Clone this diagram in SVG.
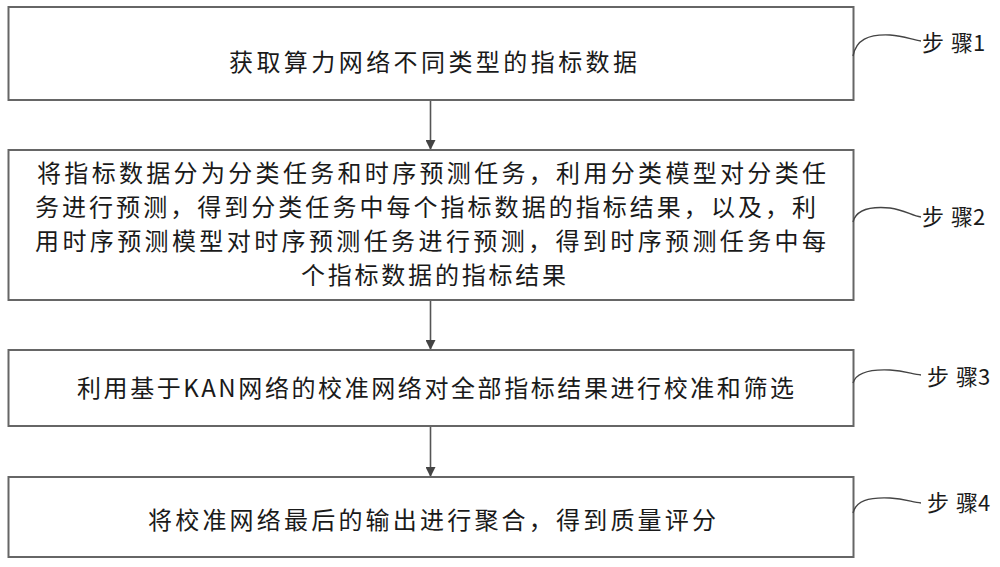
<svg xmlns="http://www.w3.org/2000/svg" width="1000" height="567" viewBox="0 0 1000 567">
<style>
.box{fill:#fff;stroke:#666;stroke-width:2}
.t{font-family:"Noto Sans CJK SC","Noto Sans",sans-serif;font-size:24px;fill:#1a1a1a;text-anchor:middle}
.lbl{font-family:"Noto Sans CJK SC","Noto Sans",sans-serif;font-size:22px;fill:#1a1a1a}
.con{stroke:#555;stroke-width:1.6;fill:none}
.cur{stroke:#444;stroke-width:1.4;fill:none}
</style>
<defs>
<marker id="arr" viewBox="0 0 10 10" refX="10" refY="5" markerWidth="10" markerHeight="10" markerUnits="userSpaceOnUse" orient="auto">
<path d="M0,0 L10,5 L0,10 Z" fill="#444"/>
</marker>
</defs>
<rect width="1000" height="567" fill="#fff"/>
<g id="connectors">
<line class="con" x1="430.5" y1="100" x2="430.5" y2="150" marker-end="url(#arr)"/>
<line class="con" x1="430.5" y1="300" x2="430.5" y2="350" marker-end="url(#arr)"/>
<line class="con" x1="430.5" y1="426" x2="430.5" y2="477" marker-end="url(#arr)"/>
</g>
<g id="step1">
<rect class="box" x="8.5" y="7" width="845" height="93"/>
<text class="t" x="433" y="71" textLength="408" lengthAdjust="spacing">获取算力网络不同类型的指标数据</text>
<path class="cur" d="M853,56 C856,40 868,34 890,35 C905,36 912,40 921,41"/>
<text class="lbl" x="922" y="51">步<tspan dx="7">骤1</tspan></text>
</g>
<g id="step2">
<rect class="box" x="8.5" y="150" width="845" height="150"/>
<text class="t" x="431.5" y="182" textLength="789" lengthAdjust="spacing">将指标数据分为分类任务和时序预测任务，利用分类模型对分类任</text>
<text class="t" x="425.5" y="216" textLength="781" lengthAdjust="spacing">务进行预测，得到分类任务中每个指标数据的指标结果，以及，利</text>
<text class="t" x="430.5" y="250" textLength="791" lengthAdjust="spacing">用时序预测模型对时序预测任务进行预测，得到时序预测任务中每</text>
<text class="t" x="433.5" y="284" textLength="265" lengthAdjust="spacing">个指标数据的指标结果</text>
<path class="cur" d="M853,222 C856,210 868,206 890,208 C905,210 912,216 921,217"/>
<text class="lbl" x="922" y="225">步<tspan dx="7">骤2</tspan></text>
</g>
<g id="step3">
<rect class="box" x="8.5" y="350" width="845" height="76"/>
<text class="t" x="435.5" y="397" textLength="717" lengthAdjust="spacing">利用基于KAN网络的校准网络对全部指标结果进行校准和筛选</text>
<path class="cur" d="M853,383 C856,373 868,369 890,370 C905,371 912,374 921,375"/>
<text class="lbl" x="927" y="385">步<tspan dx="7">骤3</tspan></text>
</g>
<g id="step4">
<rect class="box" x="8.5" y="477" width="845" height="80"/>
<text class="t" x="432" y="529" textLength="568" lengthAdjust="spacing">将校准网络最后的输出进行聚合，得到质量评分</text>
<path class="cur" d="M853,513 C856,501 868,497 890,498 C905,499 912,502 921,503"/>
<text class="lbl" x="927" y="511">步<tspan dx="7">骤4</tspan></text>
</g>
</svg>
